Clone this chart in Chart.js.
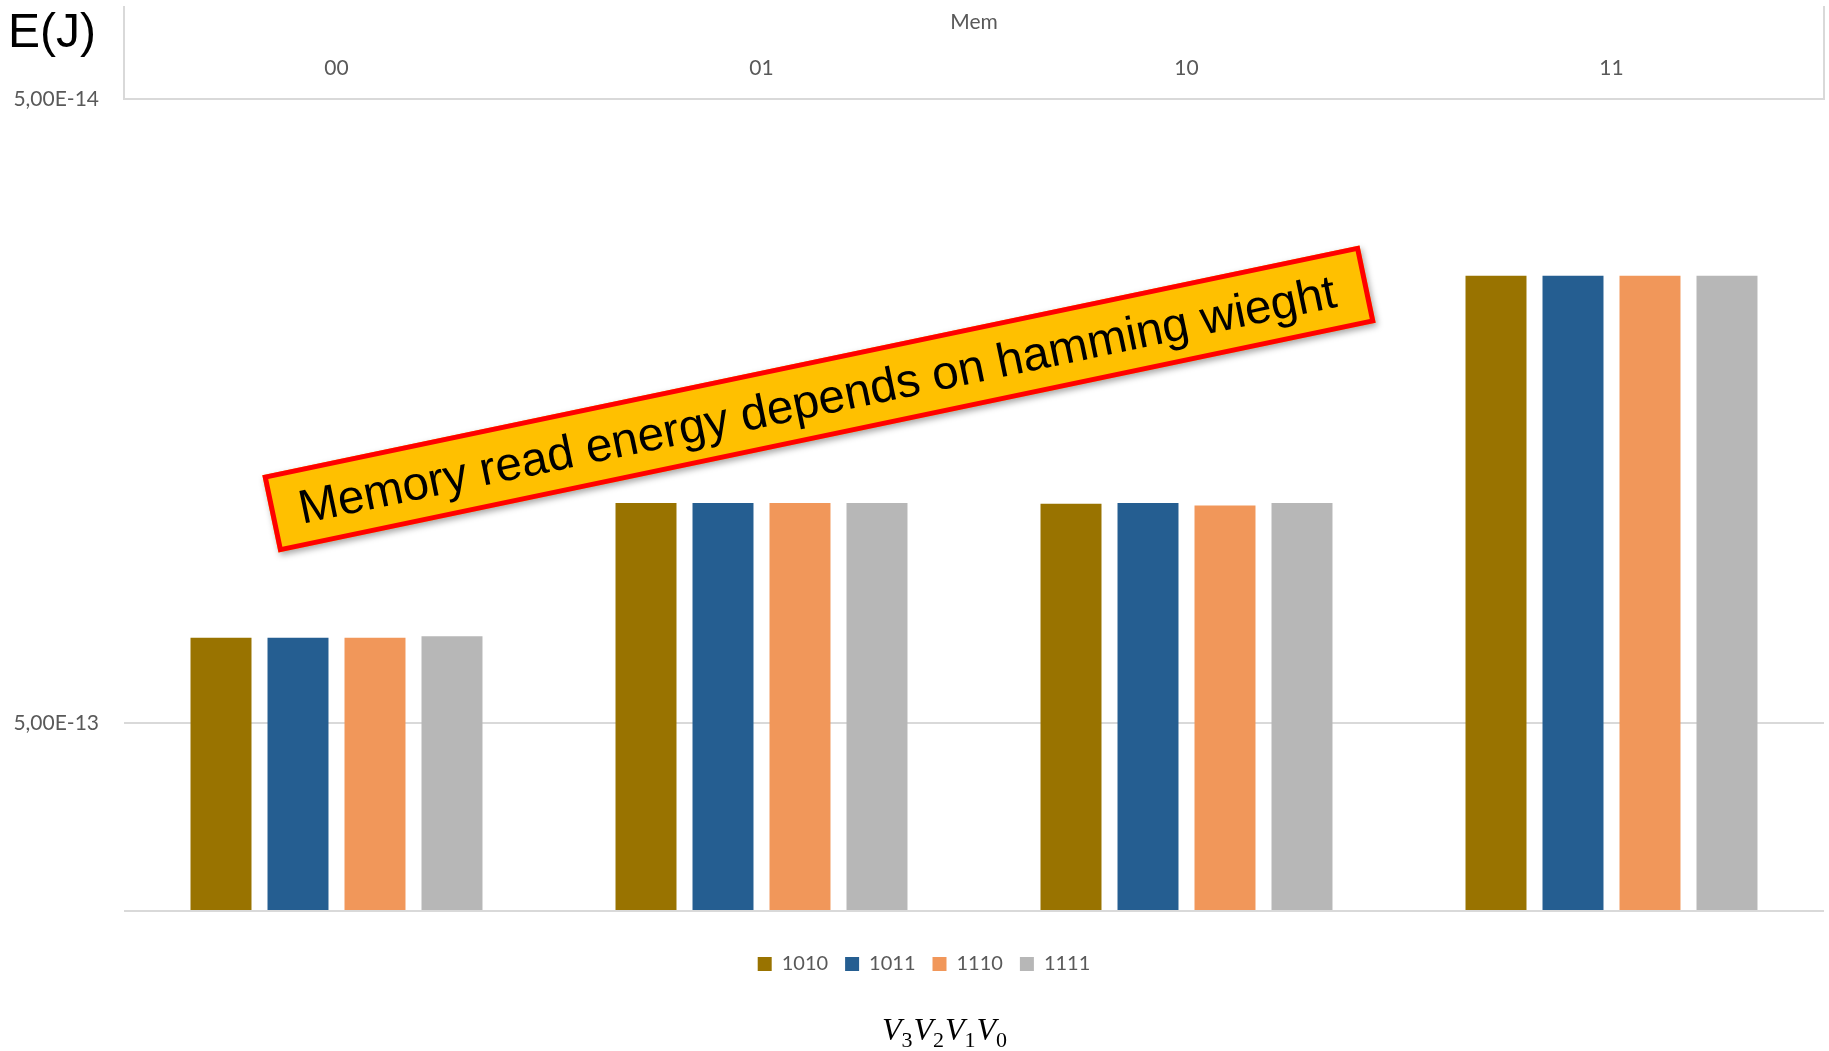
<!DOCTYPE html>
<html>
<head>
<meta charset="utf-8">
<script src="https://cdn.jsdelivr.net/npm/chart.js@4.4.1/dist/chart.umd.min.js"></script>
<style>
  html, body { margin: 0; padding: 0; background: #fff; }
  #caja { position: relative; width: 1829px; height: 1051px; }
</style>
</head>
<body>
<div id="caja"><canvas id="grafica" width="1829" height="1051"></canvas></div>
<script>
// datos (E en julios, eje log invertido)
const categorias = ["00", "01", "10", "11"];
const series = ["1010", "1011", "1110", "1111"];
const e1010 = [3.65e-13, 2.22e-13, 2.225e-13, 9.6e-14];
const e1011 = [3.65e-13, 2.22e-13, 2.22e-13, 9.6e-14];
const e1110 = [3.65e-13, 2.22e-13, 2.24e-13, 9.6e-14];
const e1111 = [3.63e-13, 2.22e-13, 2.22e-13, 9.6e-14];
const ticksY = [5e-14, 5e-13, 1e-12];
const colores = ["#997300", "#255E91", "#F1975A", "#B7B7B7"];

const tituloX = "Mem";
const tituloY = "E(J)";
const nota = "Memory read energy depends on hamming wieght";

const gris = "#595959";
const fuente = "Lato";

const valores = [e1010, e1011, e1110, e1111];
const yMin = ticksY[0];
const yMax = ticksY[ticksY.length - 1];

function formatoE(v) {
    if (v === yMax) return "";
    return v.toExponential(2).replace(".", ",").replace("e", "E");
}

// textos y adornos que Excel pone fuera de los ejes
const extras = {
    id: "extras",
    afterLayout(chart) {
        // la leyenda de Excel queda un poco a la derecha del centro
        chart.legend.left += 12;
        chart.legend.right += 12;
    },
    afterDraw(chart) {
        const { ctx, chartArea } = chart;
        ctx.save();

        // lineas del grupo de categorias "Mem"
        ctx.strokeStyle = "#d9d9d9";
        ctx.lineWidth = 2;
        ctx.beginPath();
        ctx.moveTo(chartArea.left, 6);
        ctx.lineTo(chartArea.left, chartArea.top);
        ctx.moveTo(chartArea.right, 6);
        ctx.lineTo(chartArea.right, chartArea.top);
        ctx.stroke();

        // titulo del eje Y
        ctx.fillStyle = "#000";
        ctx.font = "48px 'Liberation Sans', Arial, sans-serif";
        ctx.textAlign = "left";
        ctx.textBaseline = "alphabetic";
        ctx.fillText(tituloY, 8, 47);

        // titulo inferior V3V2V1V0
        const partes = [["V", "3"], ["V", "2"], ["V", "1"], ["V", "0"]];
        const fV = "italic 32px 'Liberation Serif', serif";
        const fS = "22px 'Liberation Serif', serif";
        let ancho = 0;
        partes.forEach(p => {
            ctx.font = fV; ancho += ctx.measureText(p[0]).width;
            ctx.font = fS; ancho += ctx.measureText(p[1]).width + 1;
        });
        let x = 945 - ancho / 2;
        partes.forEach(p => {
            ctx.font = fV; ctx.fillText(p[0], x, 1040); x += ctx.measureText(p[0]).width;
            ctx.font = fS; ctx.fillText(p[1], x, 1047); x += ctx.measureText(p[1]).width + 1;
        });

        // cartel rotado
        const w = 1121, h = 79;
        ctx.translate(819, 399);
        ctx.rotate(-11.83 * Math.PI / 180);
        ctx.save();
        ctx.shadowColor = "rgba(0,0,0,0.35)";
        ctx.shadowBlur = 6;
        ctx.shadowOffsetX = 2;
        ctx.shadowOffsetY = 3;
        ctx.fillStyle = "#FFC000";
        ctx.fillRect(-w / 2, -h / 2, w, h);
        ctx.restore();
        ctx.strokeStyle = "#FF0000";
        ctx.lineWidth = 5;
        ctx.strokeRect(-w / 2 + 2.5, -h / 2 + 2.5, w - 5, h - 5);
        ctx.fillStyle = "#000";
        ctx.font = "47.5px 'Liberation Sans', Arial, sans-serif";
        ctx.textAlign = "center";
        ctx.textBaseline = "middle";
        ctx.fillText(nota, -2, 3);

        ctx.restore();
    }
};

const ctx = document.getElementById("grafica").getContext("2d");

new Chart(ctx, {
    type: "bar",
    data: {
        labels: categorias,
        datasets: series.map((s, i) => ({
            label: s,
            data: valores[i],
            backgroundColor: colores[i],
            borderWidth: 0,
            base: yMax,
            categoryPercentage: 0.7247,
            barPercentage: 0.792
        }))
    },
    options: {
        responsive: false,
        devicePixelRatio: 1,
        animation: false,
        layout: { padding: { left: 0, right: 5, top: 0, bottom: 67 } },
        plugins: {
            legend: {
                position: "bottom",
                title: { display: true, text: "", font: { size: 10 }, padding: { top: 14, bottom: 0 } },
                labels: {
                    boxWidth: 14,
                    boxHeight: 14,
                    padding: 17,
                    color: gris,
                    font: { family: fuente, size: 20 }
                }
            },
            tooltip: { enabled: false }
        },
        scales: {
            x: {
                position: "top",
                grid: { display: false, drawTicks: false },
                border: { display: true, color: "#d9d9d9", width: 2 },
                ticks: { color: gris, padding: 18, font: { family: fuente, size: 21 } },
                title: {
                    display: true,
                    text: tituloX,
                    color: gris,
                    font: { family: fuente, size: 21 },
                    padding: { top: 10, bottom: 0 }
                },
                afterFit(scale) { scale.height = 99; }
            },
            y: {
                type: "logarithmic",
                reverse: true,
                min: yMin,
                max: yMax,
                grid: { color: "#d9d9d9", lineWidth: 2, drawTicks: false },
                border: { display: false },
                ticks: {
                    color: gris,
                    padding: 25,
                    font: { family: fuente, size: 21 },
                    callback: v => formatoE(v)
                },
                afterBuildTicks(scale) {
                    scale.ticks = ticksY.map(v => ({ value: v }));
                },
                afterFit(scale) { scale.width = 124; }
            }
        }
    },
    plugins: [extras]
});
</script>
</body>
</html>
